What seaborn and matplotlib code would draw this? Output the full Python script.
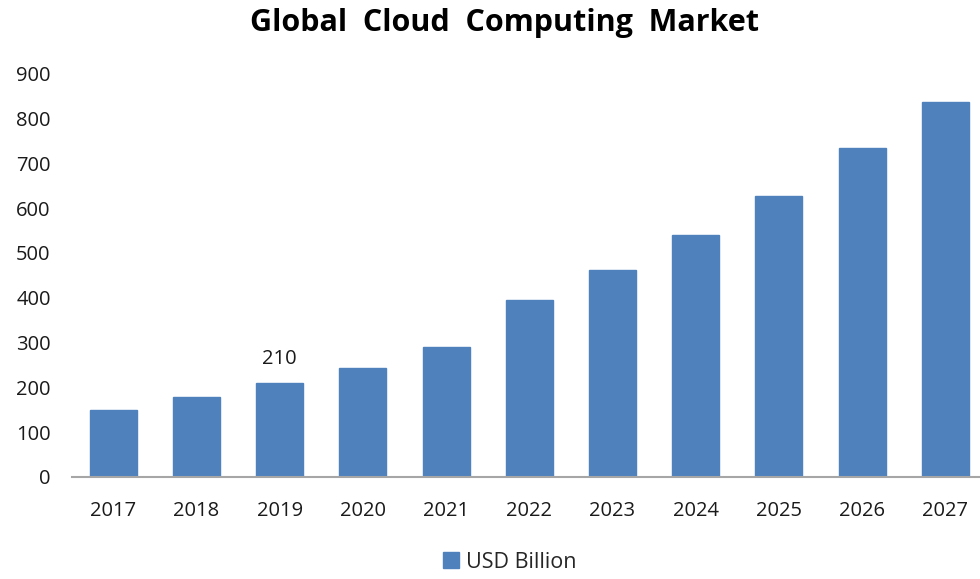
import matplotlib
matplotlib.use("Agg")
import matplotlib.pyplot as plt
import seaborn as sns
import pandas as pd
from matplotlib.patches import Patch

years = ["2017", "2018", "2019", "2020", "2021", "2022", "2023", "2024", "2025", "2026", "2027"]
usd_billion = [150, 178, 210, 244, 289, 395, 461, 539, 628, 735, 836]
y_ticks = [0, 100, 200, 300, 400, 500, 600, 700, 800, 900]
title = "Global  Cloud  Computing  Market"
series_name = "USD Billion"
labelled_year = "2019"

sns.set_theme(style="white")
plt.rcParams['font.family'] = ['Open Sans', 'DejaVu Sans']

df = pd.DataFrame({"Year": years, "Value": usd_billion})

fig = plt.figure(figsize=(9.8, 5.79), dpi=100)
ax = fig.add_axes([71.5 / 980, (579 - 477) / 579, 915.5 / 980, (477 - 73.7) / 579])

bar_color = "#4F81BD"
sns.barplot(data=df, x="Year", y="Value", color=bar_color, width=0.565,
            saturation=1, ax=ax, edgecolor=bar_color)

ax.set_ylim(0, 900)
ax.set_xlim(-0.5, len(years) - 0.5)
ax.set_yticks(y_ticks)
ax.set_xlabel("")
ax.set_ylabel("")
for s in ["top", "right", "left"]:
    ax.spines[s].set_visible(False)
ax.spines["bottom"].set_color("#A6A6A6")
ax.spines["bottom"].set_linewidth(1.5)
ax.tick_params(axis="y", length=0, pad=15, labelsize=14.5, labelcolor="#1a1a1a")
ax.tick_params(axis="x", length=0, pad=17, labelsize=14.5, labelcolor="#1a1a1a")

idx = years.index(labelled_year)
ax.annotate(str(usd_billion[idx]), (idx, usd_billion[idx]), xytext=(0, 17),
            textcoords="offset points", ha="center", va="center",
            fontsize=14.5, color="#1a1a1a")

fig.text(505 / 980, 1 - 23 / 579, title, ha="center", va="center",
         fontsize=22, fontweight="bold", color="black")

handles = [Patch(facecolor=bar_color, edgecolor=bar_color, label=series_name)]
fig.legend(handles=handles, loc="center", bbox_to_anchor=(510 / 980, 1 - 562 / 579),
           frameon=False, fontsize=15.5, handlelength=0.7, handleheight=0.7,
           handletextpad=0.35)

fig.savefig("out.png", dpi=100)
